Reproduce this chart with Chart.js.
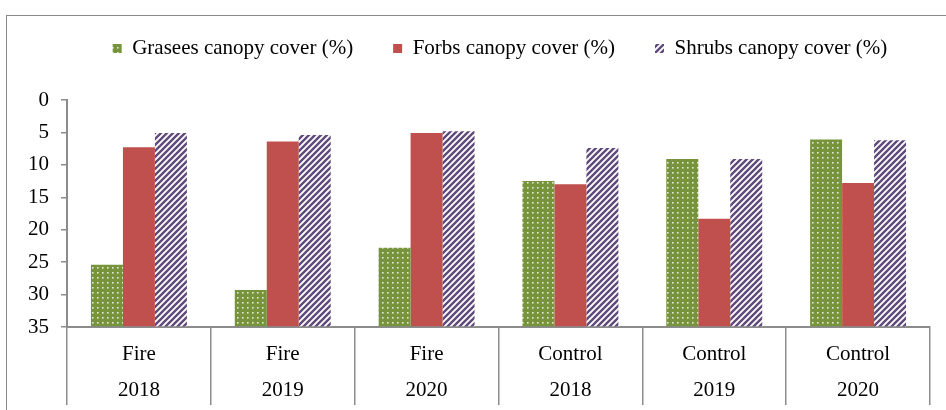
<!DOCTYPE html>
<html>
<head>
<meta charset="utf-8">
<script src="https://cdn.jsdelivr.net/npm/chart.js@4.4.1/dist/chart.umd.min.js"></script>
<style>
body{margin:0;background:#fff;}
#wrap{position:relative;width:946px;height:410px;overflow:hidden;}
#frame{position:absolute;left:6px;top:15px;width:960px;height:420px;border-left:1.5px solid #8a8a8a;border-top:1.5px solid #8a8a8a;}
#c{position:absolute;left:0;top:0;}
</style>
</head>
<body>
<div id="wrap">
<div id="frame"></div>
<canvas id="c" width="946" height="410"></canvas>
</div>
<script>

// data
const groups = ["Fire","Fire","Fire","Control","Control","Control"];
const years = ["2018","2019","2020","2018","2019","2020"];
const seriesNames = ["Grasees canopy cover (%)","Forbs canopy cover (%)","Shrubs canopy cover (%)"];
const grasses = [25.4, 29.3, 22.8, 12.5, 9.1, 6.1];
const forbs = [7.3, 6.4, 5.1, 13.0, 18.3, 12.8];
const shrubs = [5.1, 5.4, 4.8, 7.4, 9.1, 6.2];

const labels = groups.map((g,i) => [g, years[i]]);

// fill patterns
function dots(){
let t = document.createElement("canvas");
t.width = 5; t.height = 5;
let g = t.getContext("2d");
g.fillStyle = "#77933C";
g.fillRect(0,0,5,5);
g.fillStyle = "#e3ead6";
g.fillRect(2,2,1.6,1.6);
return g.createPattern(t,"repeat");
}

function stripes(){
let t = document.createElement("canvas");
t.width = 6; t.height = 6;
let g = t.getContext("2d");
g.fillStyle = "#ffffff";
g.fillRect(0,0,6,6);
g.strokeStyle = "#604A7B";
g.lineWidth = 2.4;
g.beginPath();
g.moveTo(-1,7); g.lineTo(7,-1);
g.moveTo(-4,4); g.lineTo(4,-4);
g.moveTo(2,10); g.lineTo(10,2);
g.stroke();
return g.createPattern(t,"repeat");
}

const axisGray = "#8c8c8c";
const font = {family:"'Liberation Serif', 'Times New Roman', serif", size:21};

// legend box: fixed height, nudged to where the original sits
const legendSize = {
id:"legendSize",
beforeLayout(chart){
let lg = chart.legend;
if (lg && !lg._sized){
let fit = lg.fit;
lg.fit = function(){ fit.call(this); this.height = 100; };
lg._sized = true;
}
},
afterLayout(chart){
let lg = chart.legend;
lg.left += 35; lg.right += 35;
lg.top -= 2; lg.bottom -= 2;
}
};

new Chart(document.getElementById("c"),{
type:"bar",
data:{
labels:labels,
datasets:[
{label:seriesNames[0], data:grasses, backgroundColor:dots(), base:35},
{label:seriesNames[1], data:forbs, backgroundColor:"#C0504D", base:35},
{label:seriesNames[2], data:shrubs, backgroundColor:stripes(), base:35}
]
},
options:{
responsive:false,
animation:false,
categoryPercentage:0.667,
barPercentage:1.0,
layout:{padding:{top:0,left:0,right:16,bottom:0}},
plugins:{
tooltip:{enabled:false},
legend:{
position:"top",
labels:{boxWidth:9, boxHeight:9, padding:40, color:"#000", font:font}
}
},
scales:{
x:{
grid:{offset:true, drawOnChartArea:false, tickLength:78, color:axisGray, lineWidth:1.5},
border:{color:axisGray, width:2},
ticks:{color:"#000", font:{...font, lineHeight:36/21}, padding:-69, maxRotation:0, autoSkip:false},
afterFit(s){ s.height = 83; }
},
y:{
reverse:true,
min:0, max:35,
grid:{drawOnChartArea:false, tickLength:6, color:axisGray, lineWidth:1.5},
border:{color:axisGray, width:2},
ticks:{stepSize:5, color:"#000", font:font, padding:12},
afterFit(s){ s.width = 67; }
}
}
},
plugins:[legendSize]
})
</script>
</body>
</html>
